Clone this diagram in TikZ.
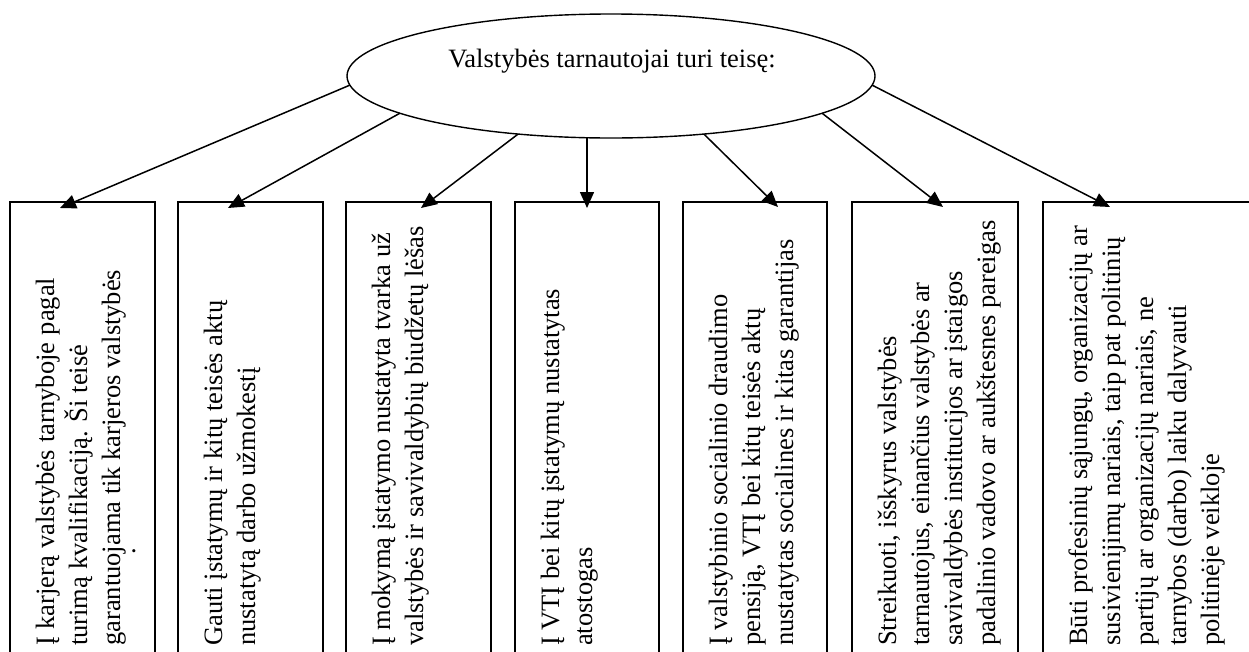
\documentclass[tikz,border=0pt]{standalone}
\usepackage{fontspec}
\setmainfont{Liberation Serif}
\usetikzlibrary{shapes.geometric,arrows.meta,calc}
\begin{document}
\begin{tikzpicture}[x=1pt,y=-1pt,
  box/.style={draw, line width=1.4pt, rectangle, inner sep=0pt, outer sep=0pt,
    anchor=north west, minimum height=500pt},
  txt/.style={rotate=90, anchor=north west, inner sep=0pt, align=left,
    font=\fontsize{26.5}{33}\selectfont},
  arr/.style={line width=1.5pt, -{Triangle[length=16pt,width=14pt]}},
  rights/.style={draw, ellipse, line width=1.4pt, minimum width=528pt,
    minimum height=124pt, inner sep=0pt, outer sep=0pt}
]
\useasboundingbox (0,0) rectangle (1249,651);
\clip (0,0) rectangle (1249,651);
\fill[white] (0,0) rectangle (1249,651);

% central ellipse
\node[rights] (e) at (611,76) {};
\node[anchor=base, inner sep=0pt, font=\fontsize{26.5}{33}\selectfont] (et) at (612,67)
  {Valstybės tarnautojai turi teisę:};

% boxes
\node[box, minimum width=145pt] (b1) at (10,202) {};
\node[box, minimum width=145pt] (b2) at (178,202) {};
\node[box, minimum width=145pt] (b3) at (346,202) {};
\node[box, minimum width=144pt] (b4) at (515,202) {};
\node[box, minimum width=144pt] (b5) at (683,202) {};
\node[box, minimum width=166pt] (b6) at (852,202) {};
\node[box, minimum width=300pt] (b7) at (1043,202) {};

% texts
\newcommand{\fstrut}{\rule{0pt}{20pt}}
\node[txt] (x1) at (34,646) {\fstrut\makebox[368pt][s]{Į karjerą valstybės tarnyboje pagal}\\
  turimą kvalifikaciją. Ši teisė\\
  garantuojama tik karjeros valstybės\\[-18pt]
  \hspace*{91pt}.};
\node[txt] (x2) at (202,646) {\fstrut Gauti įstatymų ir kitų teisės aktų\\
  nustatytą darbo užmokestį};
\node[txt] (x3) at (370,646) {\fstrut Į mokymą įstatymo nustatyta tvarka už\\
  valstybės ir savivaldybių biudžetų lėšas};
\node[txt] (x4) at (539,646) {\fstrut Į VTĮ bei kitų įstatymų nustatytas\\
  atostogas};
\node[txt] (x5) at (707,646) {\fstrut Į valstybinio socialinio draudimo\\
  pensiją, VTĮ bei kitų teisės aktų\\
  nustatytas socialines ir kitas garantijas};
\node[txt] (x6) at (876,646) {\fstrut Streikuoti, išskyrus valstybės\\
  tarnautojus, einančius valstybės ar\\
  savivaldybės institucijos ar įstaigos\\
  padalinio vadovo ar aukštesnes pareigas};
\node[txt] (x7) at (1067,646) {\fstrut Būti profesinių sąjungų, organizacijų ar\\
  susivienijimų nariais, taip pat politinių\\
  partijų ar organizacijų nariais, ne\\
  tarnybos (darbo) laiku dalyvauti\\
  politinėje veikloje};

% arrow tips
\coordinate (t1) at ($(b1.north west)+(50,6)$);
\coordinate (t2) at ($(b2.north west)+(50,6)$);
\coordinate (t3) at ($(b3.north west)+(75,6)$);
\coordinate (t4) at ($(b4.north)+(0,6)$);
\coordinate (t5) at ($(b5.north west)+(95,5)$);
\coordinate (t6) at ($(b6.north west)+(91,5)$);
\coordinate (t7) at ($(b7.north west)+(67,5)$);

\draw[arr] (e.182) -- (t1);
\draw[arr] (e.190) -- (t2);
\draw[arr] (e.212) -- (t3);
\draw[arr] (e.south -| t4) -- (t4);
\draw[arr] (e.328) -- (t5);
\draw[arr] (e.350) -- (t6);
\draw[arr] (e.358) -- (t7);
\end{tikzpicture}
\end{document}
